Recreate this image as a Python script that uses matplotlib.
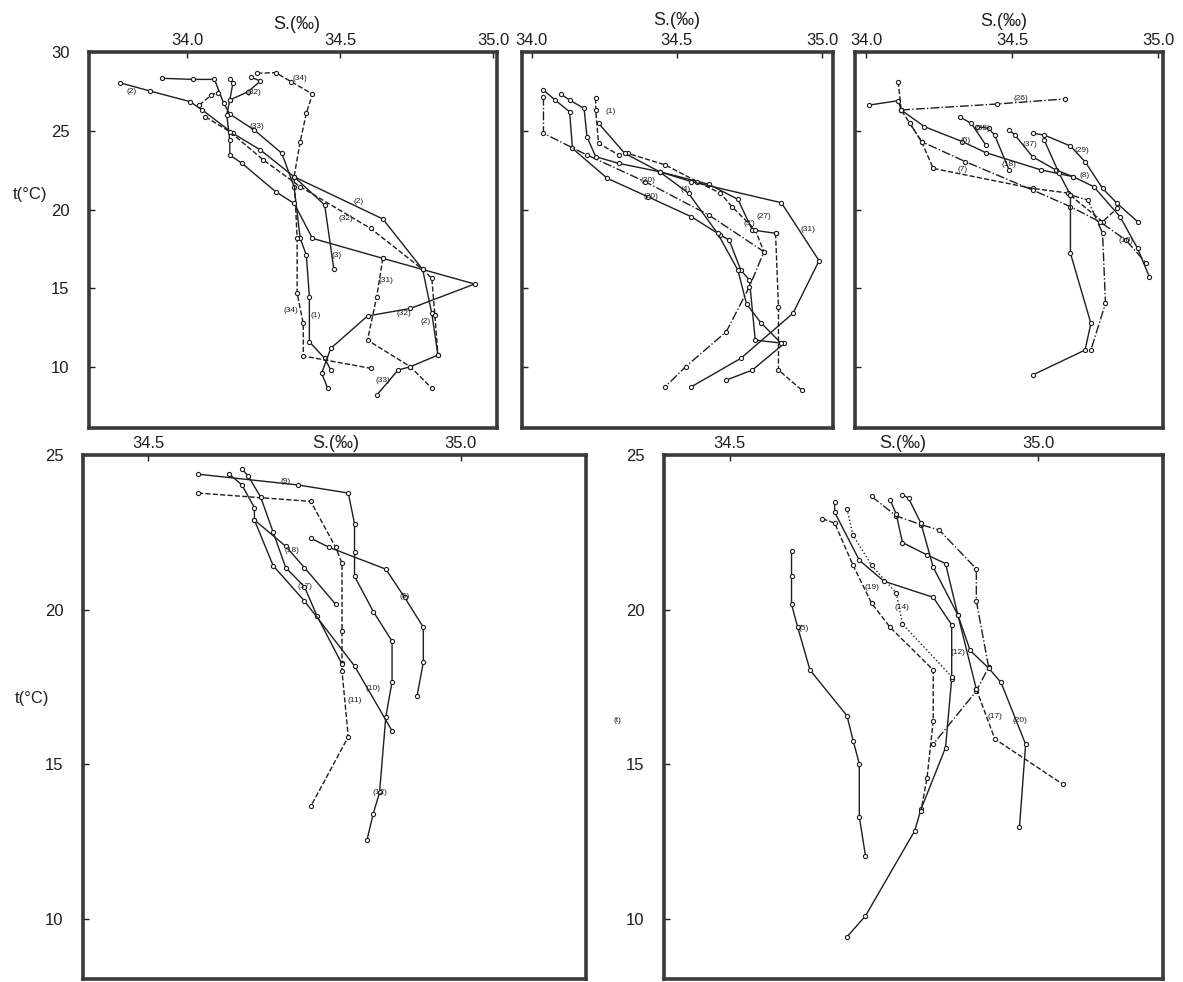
import matplotlib
matplotlib.use("Agg")
import matplotlib.pyplot as plt

# ---- panel 1 (top left): salinity, temperature pairs per station ----
p1_a = [(33.78, 28.05), (33.88, 27.52), (34.01, 26.85), (34.05, 26.32), (34.15, 24.84), (34.24, 23.78),
        (34.35, 22.08), (34.64, 19.40), (34.77, 16.20), (34.80, 13.41), (34.82, 10.76), (34.73, 10.02),
        (34.69, 9.81), (34.62, 8.22)]
p1_b = [(33.92, 28.33), (34.02, 28.26), (34.09, 28.26), (34.12, 26.74), (34.14, 26.06), (34.22, 25.05),
        (34.31, 23.57), (34.35, 21.45), (34.37, 18.17), (34.39, 17.11), (34.40, 14.47), (34.40, 11.61),
        (34.45, 10.55), (34.47, 9.81)]
p1_c = [(34.23, 28.65), (34.29, 28.69), (34.34, 28.12), (34.41, 27.33), (34.39, 26.11), (34.37, 24.31),
        (34.35, 22.08), (34.36, 18.17), (34.36, 14.68), (34.38, 12.77), (34.38, 10.70), (34.60, 9.92)]
p1_d = [(34.14, 26.95), (34.20, 27.48), (34.24, 28.16), (34.21, 28.39)]
p1_e = [(34.14, 28.31), (34.15, 28.01), (34.14, 26.95), (34.13, 26.00), (34.14, 24.41), (34.14, 23.46),
        (34.18, 22.93), (34.29, 21.13), (34.35, 20.39), (34.41, 18.17), (34.64, 16.90), (34.94, 15.27),
        (34.73, 13.72), (34.59, 13.24), (34.47, 11.19), (34.44, 9.60), (34.46, 8.65)]
p1_f = [(34.04, 26.63), (34.08, 27.27), (34.10, 27.42)]
p1_g = [(34.06, 25.89), (34.14, 24.94), (34.25, 23.14), (34.37, 21.45), (34.60, 18.80), (34.77, 16.20),
        (34.80, 15.63), (34.81, 13.30), (34.82, 10.76)]
p1_h = [(34.35, 22.08), (34.45, 20.29), (34.48, 16.20)]
p1_i = [(34.64, 16.90), (34.62, 14.47), (34.59, 11.71), (34.73, 10.02), (34.80, 8.65)]
p1_labels = [("(2)", 33.82, 27.48), ("(34)", 34.37, 28.33), ("(32)", 34.22, 27.42), ("(33)", 34.23, 25.30),
             ("(2)", 34.56, 20.50), ("(32)", 34.52, 19.44), ("(3)", 34.49, 17.11), ("(31)", 34.65, 15.52),
             ("(34)", 34.34, 13.62), ("(1)", 34.42, 13.30), ("(32)", 34.71, 13.41), ("(2)", 34.78, 12.88),
             ("(33)", 34.64, 9.17)]

# ---- panel 2 (top middle) ----
p2_a = [(34.04, 27.59), (34.08, 26.95), (34.13, 26.21), (34.14, 23.88), (34.26, 21.98), (34.40, 20.81),
        (34.55, 19.54), (34.65, 18.38), (34.68, 18.06), (34.72, 16.16), (34.75, 15.52), (34.77, 11.71),
        (34.87, 11.50), (34.76, 9.81), (34.67, 9.17)]
p2_b = [(34.04, 27.16), (34.04, 24.84), (34.19, 23.46), (34.39, 21.77), (34.61, 19.65), (34.80, 17.32),
        (34.75, 15.10), (34.67, 12.24), (34.53, 10.02), (34.46, 8.75)]
p2_c = [(34.10, 27.33), (34.13, 26.95), (34.18, 26.42), (34.19, 24.62), (34.22, 23.35), (34.30, 22.93),
        (34.44, 22.40), (34.61, 21.60), (34.71, 20.65), (34.76, 18.70), (34.84, 18.49)]
p2_c2 = [(34.84, 18.49), (34.85, 13.83), (34.85, 9.81), (34.93, 8.54)]
p2_d = [(34.22, 27.06), (34.22, 26.32), (34.23, 24.20), (34.30, 23.46), (34.33, 23.57), (34.46, 22.83),
        (34.57, 21.77), (34.65, 21.03), (34.69, 20.18), (34.77, 18.70), (34.80, 17.32)]
p2_e = [(34.23, 25.47), (34.32, 23.57), (34.44, 22.40), (34.55, 21.77), (34.86, 20.43), (34.99, 16.75),
        (34.90, 13.41), (34.72, 10.55), (34.55, 8.75)]
p2_f = [(34.44, 22.40), (34.54, 21.03), (34.64, 18.49), (34.71, 16.16), (34.74, 14.00), (34.79, 12.80),
        (34.86, 11.50)]
p2_labels = [("(1)", 34.27, 26.21), ("(20)", 34.40, 21.87), ("(4)", 34.53, 21.24), ("(20)", 34.41, 20.81),
             ("(27)", 34.80, 19.54), ("(3')", 34.75, 19.12), ("(31)", 34.95, 18.70)]

# ---- panel 3 (top right) ----
p3_a = [(34.01, 26.63), (34.11, 26.91), (34.12, 26.32)]
p3_b = [(34.12, 26.32), (34.45, 26.70), (34.68, 27.02)]
p3_c = [(34.11, 28.12), (34.12, 26.32), (34.15, 25.47), (34.19, 24.31), (34.23, 22.61), (34.57, 21.34),
        (34.69, 21.05), (34.81, 19.23), (34.86, 20.07)]
p3_d = [(34.12, 26.32), (34.20, 25.26), (34.33, 24.31), (34.41, 23.61), (34.60, 22.51), (34.71, 22.08),
        (34.78, 21.45), (34.87, 19.54), (34.93, 17.53), (34.97, 15.74)]
p3_e = [(34.15, 25.47), (34.19, 24.31), (34.34, 23.04), (34.57, 21.24), (34.70, 20.18), (34.80, 19.23),
        (34.89, 18.06), (34.96, 16.58)]
p3_f = [(34.32, 25.89), (34.36, 25.47), (34.41, 24.10)]
p3_g = [(34.38, 25.26), (34.42, 25.15), (34.44, 24.73), (34.49, 22.51)]
p3_h = [(34.49, 25.05), (34.51, 24.73), (34.57, 23.35), (34.65, 22.51), (34.71, 22.08)]
p3_i = [(34.57, 24.84), (34.61, 24.73), (34.70, 24.03), (34.75, 23.04), (34.81, 21.34), (34.86, 20.39),
        (34.93, 19.23)]
p3_j = [(34.61, 24.41), (34.66, 22.34), (34.70, 20.92), (34.70, 17.22), (34.77, 12.77), (34.75, 11.08),
        (34.57, 9.49)]
p3_k = [(34.70, 20.92), (34.76, 20.60), (34.81, 18.49), (34.82, 14.04), (34.77, 11.08)]
p3_labels = [("(26)", 34.53, 27.06), ("(6)", 34.34, 24.41), ("(35)", 34.40, 25.15), ("(37)", 34.56, 24.10),
             ("(29)", 34.74, 23.74), ("(7)", 34.33, 22.51), ("(18)", 34.49, 22.83), ("(8)", 34.75, 22.13),
             ("(10)", 34.89, 18.02)]

# ---- panel 4 (bottom left) ----
p4_a = [(34.58, 24.38), (34.74, 24.03), (34.82, 23.77), (34.83, 22.78), (34.83, 21.88), (34.83, 21.08),
        (34.86, 19.94), (34.89, 18.98), (34.89, 17.67), (34.88, 16.53), (34.87, 14.09), (34.86, 13.41),
        (34.85, 12.56)]
p4_b = [(34.58, 23.77), (34.76, 23.50), (34.80, 22.01), (34.81, 21.50), (34.81, 19.32), (34.81, 18.26),
        (34.81, 18.01), (34.82, 15.89), (34.76, 13.64)]
p4_c = [(34.65, 24.55), (34.66, 24.32), (34.68, 23.64), (34.70, 22.50), (34.72, 21.36), (34.75, 20.74),
        (34.77, 19.80), (34.81, 18.24)]
p4_d = [(34.63, 24.38), (34.65, 24.03), (34.67, 23.30), (34.67, 22.90), (34.70, 21.42), (34.75, 20.28),
        (34.83, 18.18), (34.89, 16.08)]
p4_e = [(34.67, 22.90), (34.72, 22.05), (34.75, 21.36), (34.80, 20.17)]
p4_f = [(34.76, 22.31), (34.79, 22.01), (34.88, 21.31), (34.91, 20.40), (34.94, 19.43), (34.94, 18.30),
        (34.93, 17.22)]
p4_labels = [("(9)", 34.72, 24.13), ("(18)", 34.73, 21.90), ("(17)", 34.75, 20.74), ("(5)", 34.91, 20.42),
             ("(10)", 34.86, 17.44), ("(11)", 34.83, 17.05), ("(12)", 34.87, 14.09)]

# ---- panel 5 (bottom right) ----
p5_a = [(34.60, 21.91), (34.60, 21.09), (34.60, 20.17), (34.61, 19.43), (34.63, 18.05), (34.69, 16.57),
        (34.70, 15.77), (34.71, 15.02), (34.71, 13.31), (34.72, 12.05)]
p5_b = [(34.67, 23.49), (34.67, 23.15), (34.71, 21.60), (34.75, 20.92), (34.83, 20.40), (34.86, 19.51),
        (34.86, 17.77), (34.85, 15.54), (34.81, 13.54), (34.80, 12.85), (34.72, 10.10), (34.69, 9.42)]
p5_c = [(34.65, 22.94), (34.67, 22.80), (34.70, 21.43), (34.73, 20.21), (34.76, 19.43), (34.83, 18.05),
        (34.83, 16.40), (34.82, 14.57), (34.81, 13.48)]
p5_d = [(34.69, 23.26), (34.70, 22.40), (34.73, 21.43), (34.77, 20.54), (34.78, 19.54), (34.86, 17.83)]
p5_e = [(34.73, 23.66), (34.77, 23.03), (34.81, 22.75), (34.84, 22.57), (34.90, 21.32), (34.90, 20.28),
        (34.92, 18.14), (34.90, 17.37), (34.83, 15.65)]
p5_f = [(34.76, 23.55), (34.77, 23.09), (34.78, 22.17), (34.82, 21.77), (34.85, 21.49), (34.87, 19.83),
        (34.90, 17.43)]
p5_f2 = [(34.90, 17.43), (34.93, 15.82), (35.04, 14.36)]
p5_g = [(34.78, 23.72), (34.79, 23.60), (34.81, 22.80), (34.83, 21.37), (34.87, 19.83), (34.89, 18.68),
        (34.92, 18.11), (34.94, 17.65), (34.98, 15.65), (34.97, 12.96)]
p5_labels = [("(5)", 34.62, 19.39), ("(19)", 34.73, 20.72), ("(14)", 34.78, 20.06), ("(12)", 34.87, 18.63),
             ("(17)", 34.93, 16.53), ("(20)", 34.97, 16.42)]

W, H = 1183, 982
ink = "#1e1e1e"
plt.rcParams["font.family"] = ["Liberation Sans", "DejaVu Sans"]

fig = plt.figure(figsize=(W / 100, H / 100), dpi=100)


def box(x0, y0, x1, y1):
    # pixel box (from top-left) -> figure rect
    return [x0 / W, 1 - y1 / H, (x1 - x0) / W, (y1 - y0) / H]


def panel(rect, xlim, ylim, xticks, yticks, ylabels):
    ax = fig.add_axes(rect)
    ax.set_xlim(*xlim)
    ax.set_ylim(*ylim)
    ax.xaxis.tick_top()
    ax.set_xticks(xticks, [f"{v:.1f}" for v in xticks])
    ax.set_yticks(yticks, [str(v) for v in yticks] if ylabels else [])
    ax.tick_params(direction="in", length=4, width=1, colors=ink, labelsize=12, pad=3)
    ax.tick_params(axis="y", pad=14)
    for s in ax.spines.values():
        s.set_linewidth(2.6)
        s.set_color("#3a3a3a")
    return ax


def draw(ax, pts, ls="-", lw=1.0):
    s = [p[0] for p in pts]
    t = [p[1] for p in pts]
    ax.plot(s, t, linestyle=ls, color=ink, lw=lw, marker="o", ms=3.0,
            mfc="white", mec=ink, mew=0.8)


def tags(ax, labels):
    for txt, s, t in labels:
        ax.text(s, t, txt, fontsize=6, color=ink, ha="center", va="center")


top_y = (6.13, 30)
bot_y = (8.06, 25)

ax1 = panel(box(89, 52, 497, 428), (33.68, 35.013), top_y, [34.0, 34.5, 35.0], [10, 15, 20, 25, 30], True)
ax2 = panel(box(522, 52, 833, 428), (33.966, 35.038), top_y, [34.0, 34.5, 35.0], [10, 15, 20, 25], False)
ax3 = panel(box(855, 52, 1163, 428), (33.962, 35.017), top_y, [34.0, 34.5, 35.0], [10, 15, 20, 25], False)
ax4 = panel(box(83, 455, 586, 979), (34.396, 35.20), bot_y, [34.5, 35.0], [10, 15, 20, 25], True)
ax5 = panel(box(664, 455, 1163, 979), (34.393, 35.203), bot_y, [34.5, 35.0], [10, 15, 20, 25], True)

for line, ls in [(p1_a, "-"), (p1_b, "-"), (p1_c, "--"), (p1_d, "-"), (p1_e, "-"),
                 (p1_f, "--"), (p1_g, "--"), (p1_h, "-"), (p1_i, "--")]:
    draw(ax1, line, ls)
tags(ax1, p1_labels)

for line, ls in [(p2_a, "-"), (p2_b, "-."), (p2_c, "-"), (p2_c2, "--"), (p2_d, "--"),
                 (p2_e, "-"), (p2_f, "-")]:
    draw(ax2, line, ls)
tags(ax2, p2_labels)

for line, ls in [(p3_a, "-"), (p3_b, "-."), (p3_c, "--"), (p3_d, "-"), (p3_e, "-."), (p3_f, "-"),
                 (p3_g, "-"), (p3_h, "-"), (p3_i, "-"), (p3_j, "-"), (p3_k, "-.")]:
    draw(ax3, line, ls)
tags(ax3, p3_labels)

for line, ls in [(p4_a, "-"), (p4_b, "--"), (p4_c, "-"), (p4_d, "-"), (p4_e, "-"), (p4_f, "-")]:
    draw(ax4, line, ls)
tags(ax4, p4_labels)

for line, ls in [(p5_a, "-"), (p5_b, "-"), (p5_c, "--"), (p5_d, ":"), (p5_e, "-."), (p5_f, "-"),
                 (p5_f2, "--"), (p5_g, "-")]:
    draw(ax5, line, ls)
tags(ax5, p5_labels)

# axis titles
for ax, s, y in [(ax1, 34.36, 1.072), (ax2, 34.50, 1.085), (ax3, 34.47, 1.08)]:
    ax.text(s, y, "S.(‰)", transform=ax.get_xaxis_transform(), fontsize=13,
            ha="center", va="center", color=ink)
for ax, s in [(ax4, 34.80), (ax5, 34.78)]:
    ax.text(s, 1.022, "S.(‰)", transform=ax.get_xaxis_transform(), fontsize=13,
            ha="center", va="center", color=ink)

fig.text(30 / W, 1 - 195 / H, "t(°C)", fontsize=12, ha="center", va="center", color=ink)
fig.text(32 / W, 1 - 698 / H, "t(°C)", fontsize=12, ha="center", va="center", color=ink)
fig.text(617 / W, 1 - 720 / H, "(t)", fontsize=6, ha="center", va="center", color=ink)

fig.savefig("out.png", dpi=100, facecolor="white")
